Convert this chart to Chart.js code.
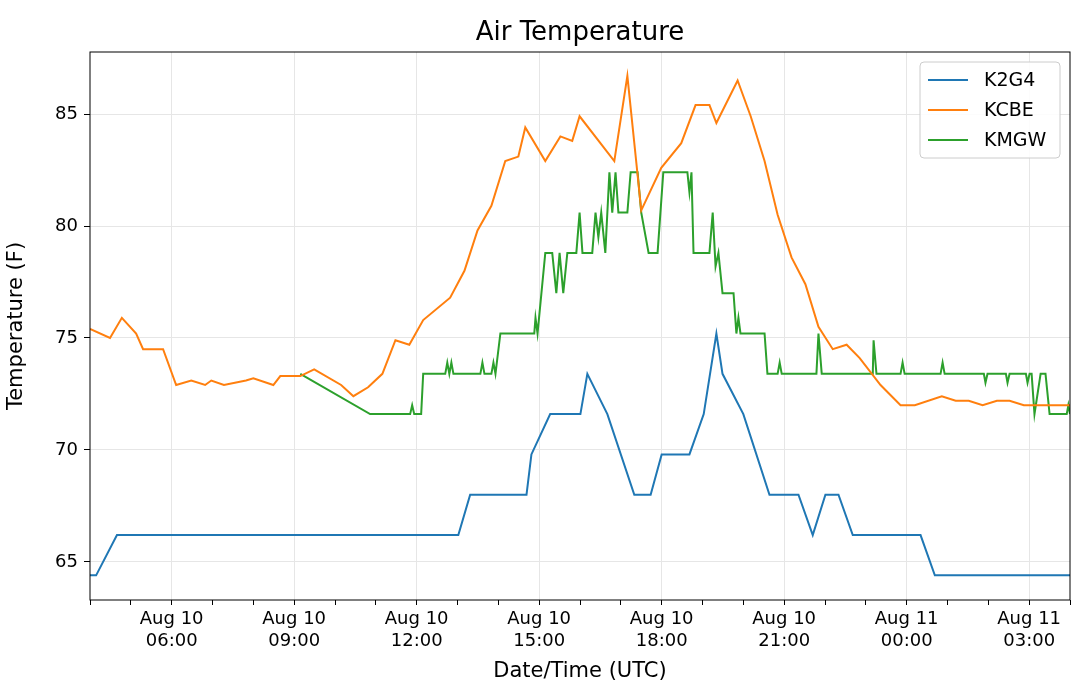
<!DOCTYPE html>
<html>
<head>
<meta charset="utf-8">
<script src="https://cdn.jsdelivr.net/npm/chart.js@4/dist/chart.umd.min.js"></script>
<style>
  html, body { margin: 0; padding: 0; background: #fff; }
  #wrap { width: 1080px; height: 688px; }
</style>
</head>
<body>
<div id="wrap"><canvas id="tempChart" width="1080" height="688"></canvas></div>
<script>
// hours since Aug 10 00:00 UTC, temperatures in F
const k2g4Hours = [4.00, 4.15, 4.66, 13.02, 13.31, 14.69, 14.81, 15.27, 16.01, 16.18, 16.67, 17.33, 17.73, 18.00, 18.68, 19.03, 19.34, 19.49, 20.00, 20.64, 21.35, 21.70, 22.01, 22.33, 22.68, 24.34, 24.69, 28.00];
const k2g4Temps = [64.4, 64.4, 66.2, 66.2, 68.0, 68.0, 69.8, 71.6, 71.6, 73.4, 71.6, 68.0, 68.0, 69.8, 69.8, 71.6, 75.2, 73.4, 71.6, 68.0, 68.0, 66.2, 68.0, 68.0, 66.2, 66.2, 64.4, 64.4];

const kcbeHours = [4.00, 4.49, 4.78, 5.13, 5.30, 5.79, 6.11, 6.48, 6.82, 6.97, 7.28, 7.82, 8.00, 8.49, 8.66, 9.15, 9.49, 10.15, 10.45, 10.81, 11.16, 11.48, 11.82, 12.16, 12.82, 13.17, 13.49, 13.83, 14.17, 14.49, 14.66, 15.15, 15.52, 15.81, 15.99, 16.84, 17.16, 17.50, 17.99, 18.48, 18.83, 19.17, 19.34, 19.86, 20.18, 20.52, 20.84, 21.18, 21.52, 21.84, 22.19, 22.53, 22.85, 23.36, 23.85, 24.20, 24.86, 25.20, 25.52, 25.86, 26.21, 26.52, 26.87, 28.00];
const kcbeTemps = [75.4, 75.0, 75.9, 75.2, 74.5, 74.5, 72.9, 73.1, 72.9, 73.1, 72.9, 73.1, 73.2, 72.9, 73.3, 73.3, 73.6, 72.9, 72.4, 72.8, 73.4, 74.9, 74.7, 75.8, 76.8, 78.0, 79.8, 80.9, 82.9, 83.1, 84.4, 82.9, 84.0, 83.8, 84.9, 82.9, 86.7, 80.7, 82.6, 83.7, 85.4, 85.4, 84.6, 86.5, 84.9, 82.9, 80.5, 78.6, 77.4, 75.5, 74.5, 74.7, 74.1, 72.9, 72.0, 72.0, 72.4, 72.2, 72.2, 72.0, 72.2, 72.2, 72.0, 72.0];

const kmgwHours = [9.15, 10.86, 11.84, 11.89, 11.94, 12.11, 12.16, 12.70, 12.75, 12.80, 12.85, 12.90, 13.56, 13.61, 13.66, 13.83, 13.88, 13.93, 14.05, 14.88, 14.91, 14.96, 15.15, 15.32, 15.42, 15.50, 15.59, 15.69, 15.91, 15.99, 16.06, 16.30, 16.38, 16.45, 16.52, 16.62, 16.72, 16.79, 16.87, 16.94, 17.16, 17.24, 17.41, 17.50, 17.68, 17.90, 18.04, 18.63, 18.68, 18.73, 18.78, 19.17, 19.25, 19.32, 19.39, 19.49, 19.76, 19.83, 19.88, 19.93, 20.52, 20.59, 20.84, 20.89, 20.94, 21.79, 21.84, 21.92, 23.17, 23.19, 23.26, 23.85, 23.90, 23.95, 24.83, 24.88, 24.93, 25.89, 25.93, 25.98, 26.43, 26.47, 26.52, 26.92, 26.96, 27.01, 27.06, 27.13, 27.28, 27.40, 27.50, 27.92, 27.96, 28.00];
const kmgwTemps = [73.4, 71.6, 71.6, 72.0, 71.6, 71.6, 73.4, 73.4, 73.9, 73.4, 73.9, 73.4, 73.4, 73.9, 73.4, 73.4, 73.9, 73.4, 75.2, 75.2, 75.9, 75.2, 78.8, 78.8, 77.0, 78.8, 77.0, 78.8, 78.8, 80.6, 78.8, 78.8, 80.6, 79.5, 80.6, 78.8, 82.4, 80.6, 82.4, 80.6, 80.6, 82.4, 82.4, 80.6, 78.8, 78.8, 82.4, 82.4, 81.5, 82.4, 78.8, 78.8, 80.6, 78.2, 78.8, 77.0, 77.0, 75.2, 75.9, 75.2, 75.2, 73.4, 73.4, 73.9, 73.4, 73.4, 75.2, 73.4, 73.4, 74.9, 73.4, 73.4, 73.9, 73.4, 73.4, 73.9, 73.4, 73.4, 73.0, 73.4, 73.4, 73.0, 73.4, 73.4, 73.0, 73.4, 73.4, 71.6, 73.4, 73.4, 71.6, 71.6, 72.0, 71.6];

const stationNames = ['K2G4', 'KCBE', 'KMGW'];
const stationColors = ['#1f77b4', '#ff7f0e', '#2ca02c'];
const yTicks = [65, 70, 75, 80, 85];

const toPoints = (hs, ts) => hs.map((h, i) => ({ x: h, y: ts[i] }));
const seriesData = [toPoints(k2g4Hours, k2g4Temps), toPoints(kcbeHours, kcbeTemps), toPoints(kmgwHours, kmgwTemps)];

const FONT = "'DejaVu Sans', sans-serif";

// frame, title and legend drawn by hand (legend sits inside the plot)
const decor = {
    id: 'decor',
    afterDraw(chart) {
        const { ctx, chartArea: a } = chart;
        ctx.save();
        ctx.strokeStyle = '#000';
        ctx.lineWidth = 1;
        ctx.strokeRect(a.left, a.top, a.right - a.left, a.bottom - a.top);
        ctx.fillStyle = '#000';
        ctx.font = '26px ' + FONT;
        ctx.textAlign = 'center';
        ctx.textBaseline = 'middle';
        ctx.fillText('Air Temperature', (a.left + a.right) / 2, 33);
        // legend box
        const bx = 920, by = 62, bw = 140, bh = 96;
        ctx.fillStyle = 'rgba(255,255,255,0.85)';
        ctx.strokeStyle = '#ccc';
        ctx.beginPath();
        ctx.roundRect(bx, by, bw, bh, 4);
        ctx.fill();
        ctx.stroke();
        ctx.font = '19px ' + FONT;
        ctx.textAlign = 'left';
        stationNames.forEach((n, i) => {
            const yy = by + 18 + i * 30;
            ctx.strokeStyle = stationColors[i];
            ctx.lineWidth = 2;
            ctx.beginPath();
            ctx.moveTo(bx + 8, yy);
            ctx.lineTo(bx + 48, yy);
            ctx.stroke();
            ctx.fillStyle = '#000';
            ctx.fillText(n, bx + 64, yy + 1);
        });
        ctx.restore();
    }
};

const ctxTemp = document.getElementById('tempChart').getContext('2d');
const tempChart = new Chart(ctxTemp, {
    type: 'line',
    data: {
        datasets: stationNames.map((n, i) => ({
            label: n,
            data: seriesData[i],
            borderColor: stationColors[i],
            borderWidth: 2,
            pointRadius: 0,
            tension: 0,
            fill: false
        }))
    },
    options: {
        responsive: false,
        animation: false,
        layout: { padding: { top: 52, right: 10, left: 0, bottom: 0 } },
        plugins: { legend: { display: false }, title: { display: false }, tooltip: { enabled: false } },
        scales: {
            x: {
                type: 'linear',
                min: 4,
                max: 28,
                afterBuildTicks: s => { s.ticks = []; for (let h = 4; h <= 28; h++) s.ticks.push({ value: h }); },
                afterFit: s => { s.height = 88; },
                border: { display: false },
                grid: {
                    color: c => (c.tick && c.tick.value % 3 === 0) ? '#e6e6e6' : 'rgba(0,0,0,0)',
                    tickColor: '#000',
                    tickLength: 5,
                    drawTicks: true
                },
                ticks: {
                    autoSkip: false,
                    maxRotation: 0,
                    color: '#000',
                    font: { size: 18, family: FONT },
                    padding: 4,
                    callback: v => {
                        if (v % 3 !== 0) return '';
                        const day = v < 24 ? 'Aug 10' : 'Aug 11';
                        const hh = String(v % 24).padStart(2, '0');
                        return [day, hh + ':00'];
                    }
                },
                title: { display: true, text: 'Date/Time (UTC)', color: '#000', font: { size: 21, family: FONT }, padding: { top: 0 } }
            },
            y: {
                min: 63.3,
                max: 87.77,
                afterBuildTicks: s => { s.ticks = yTicks.map(v => ({ value: v })); },
                afterFit: s => { s.width = 90; },
                border: { display: false },
                grid: { color: '#e6e6e6', tickColor: '#000', tickLength: 6 },
                ticks: { color: '#000', font: { size: 18, family: FONT }, padding: 6 },
                title: { display: true, text: 'Temperature (F)', color: '#000', font: { size: 21, family: FONT }, padding: { bottom: 4 } }
            }
        }
    },
    plugins: [decor]
});
</script>
</body>
</html>
